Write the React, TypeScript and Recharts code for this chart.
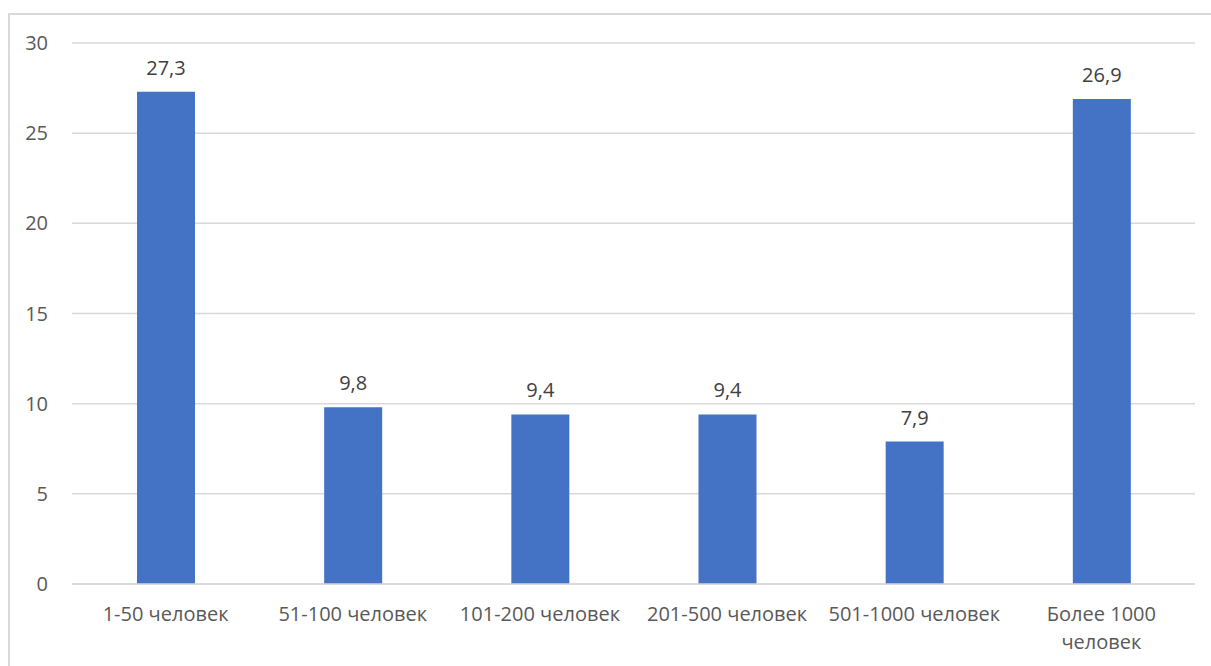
import { BarChart, Bar, XAxis, YAxis, CartesianGrid, LabelList } from "recharts";

const categories = [
  "1-50 человек",
  "51-100 человек",
  "101-200 человек",
  "201-500 человек",
  "501-1000 человек",
  "Более 1000 человек",
];
const values = [27.3, 9.8, 9.4, 9.4, 7.9, 26.9];
const yTicks = [0, 5, 10, 15, 20, 25, 30];

const data = categories.map((name, i) => ({ name, value: values[i] }));

const FONT = "'Open Sans', 'Noto Sans', sans-serif";
const TEXT = "#595959";

function splitLabel(label: string) {
  if (label.length <= 16) return [label];
  const cut = label.lastIndexOf(" ");
  return [label.slice(0, cut), label.slice(cut + 1)];
}

function CategoryTick(props: any) {
  const { x, y, payload } = props;
  const lines = splitLabel(String(payload.value));
  return (
    <text x={x} y={y} textAnchor="middle" fill={TEXT} fontSize={20} fontFamily={FONT}>
      {lines.map((line, i) => (
        <tspan key={i} x={x} dy={i === 0 ? 37 : 28}>
          {line}
        </tspan>
      ))}
    </text>
  );
}

export default function App() {
  return (
    <div style={{ position: "absolute", left: 0, top: 0, width: 1211, height: 666, background: "#fff", overflow: "hidden" }}>
      <div
        style={{
          position: "absolute",
          left: 8,
          top: 13,
          width: 1240,
          height: 700,
          border: "2px solid #d9d9d9",
          boxSizing: "border-box",
        }}
      />
      <div style={{ position: "absolute", left: 0, top: 0 }}>
        <BarChart
          width={1211}
          height={666}
          data={data}
          margin={{ top: 43, right: 16, bottom: 0, left: 0 }}
        >
          <CartesianGrid vertical={false} stroke="#d9d9d9" strokeWidth={1.5} />
          <XAxis
            dataKey="name"
            height={82}
            axisLine={{ stroke: "#d9d9d9", strokeWidth: 1.5 }}
            tickLine={false}
            tickSize={0}
            tickMargin={0}
            interval={0}
            tick={<CategoryTick />}
          />
          <YAxis
            width={72}
            domain={[0, 30]}
            ticks={yTicks}
            axisLine={false}
            tickLine={false}
            tickSize={0}
            tickMargin={24}
            tick={{ fill: TEXT, fontSize: 20, fontFamily: FONT }}
          />
          <Bar dataKey="value" fill="#4472C4" barSize={58} isAnimationActive={false}>
            <LabelList
              dataKey="value"
              position="top"
              offset={17}
              fill="#404040"
              fontSize={20}
              fontFamily={FONT}
              formatter={(v: any) => String(v).replace(".", ",")}
            />
          </Bar>
        </BarChart>
      </div>
    </div>
  );
}
